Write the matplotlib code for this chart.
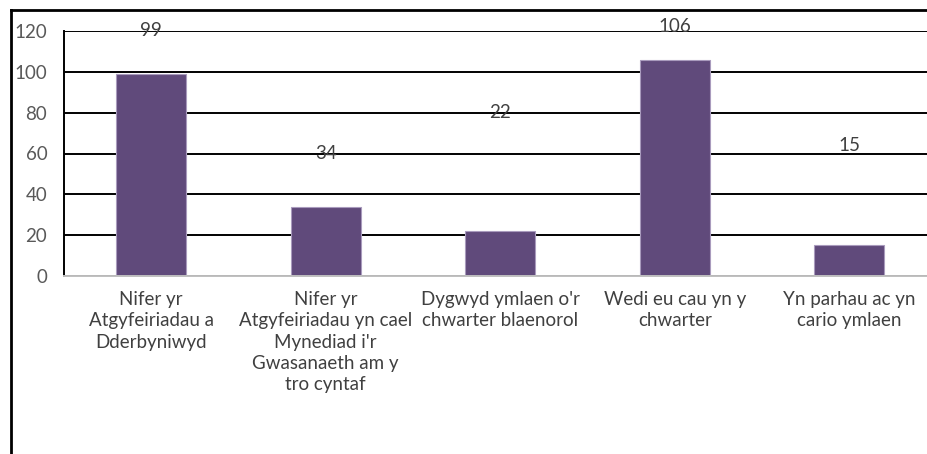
import matplotlib
matplotlib.use("Agg")
import matplotlib.pyplot as plt
from matplotlib.lines import Line2D

categories = [
    "Nifer yr\nAtgyfeiriadau a\nDderbyniwyd",
    "Nifer yr\nAtgyfeiriadau yn cael\nMynediad i'r\nGwasanaeth am y\ntro cyntaf",
    "Dygwyd ymlaen o'r\nchwarter blaenorol",
    "Wedi eu cau yn y\nchwarter",
    "Yn parhau ac yn\ncario ymlaen",
]
values = [99, 34, 22, 106, 15]
label_y = [120, 60, 80, 122, 64]
yticks = [0, 20, 40, 60, 80, 100, 120]

W, H = 928, 454
fig = plt.figure(figsize=(W / 100, H / 100), dpi=100)
plt.rcParams['font.family'] = ['Lato', 'DejaVu Sans']

left, right, top, bottom = 64, 936.5, 31, 276
ax = fig.add_axes([left / W, (H - bottom) / H, (right - left) / W, (bottom - top) / H])

x = list(range(len(values)))
ax.bar(x, values, width=0.4, color="#604A7B", edgecolor="#A99BBD", linewidth=0.8, zorder=3)
ax.set_xlim(-0.5, len(values) - 0.5)
ax.set_ylim(0, 120)
ax.set_yticks(yticks)
ax.set_yticklabels([str(t) for t in yticks], color="#595959", fontsize=13.5)
ax.set_xticks(x)
ax.set_xticklabels(categories, color="#404040", fontsize=13.5, linespacing=1.3, va="top")
ax.tick_params(axis="both", length=0)
ax.tick_params(axis="y", pad=12)
ax.tick_params(axis="x", pad=11)
ax.grid(axis="y", color="black", linewidth=1.4, zorder=1)
for s in ["top", "right"]:
    ax.spines[s].set_visible(False)
ax.spines["left"].set_color("black")
ax.spines["left"].set_linewidth(1.4)
ax.spines["bottom"].set_color("#BFBFBF")
ax.spines["bottom"].set_linewidth(1.4)
ax.spines["bottom"].set_zorder(4)

for xi, v, ly in zip(x, values, label_y):
    ax.text(xi, ly, str(v), ha="center", va="center", color="#404040", fontsize=13.5, zorder=5)

# outer chart frame
fig.add_artist(Line2D([11 / W, 11 / W], [0, (H - 10) / H], color="black", linewidth=2, transform=fig.transFigure))
fig.add_artist(Line2D([11 / W, 1], [(H - 10) / H, (H - 10) / H], color="black", linewidth=2, transform=fig.transFigure))

fig.savefig("out.png", dpi=100)
